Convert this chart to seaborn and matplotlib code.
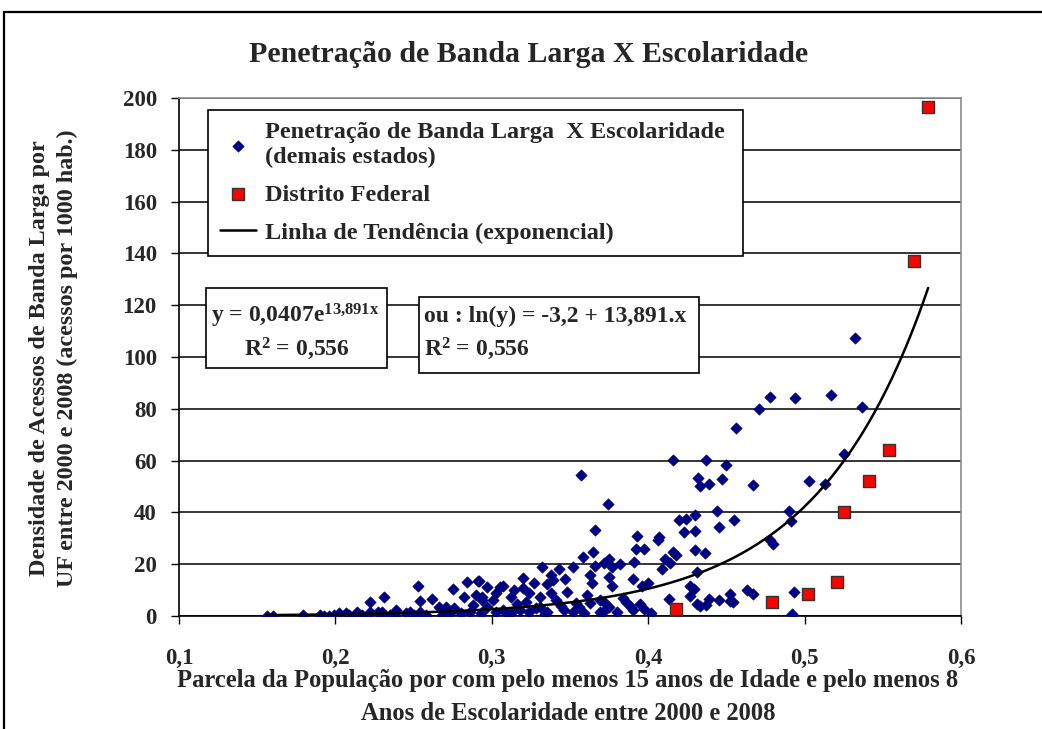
import numpy as np
import pandas as pd
import matplotlib
matplotlib.use("Agg")
import matplotlib.pyplot as plt
import seaborn as sns
from matplotlib.patches import Rectangle

# ---------------- data ----------------
estados_x = [0.156, 0.160, 0.179, 0.190, 0.193, 0.196, 0.199, 0.202, 0.207, 0.209,
             0.214, 0.217, 0.222, 0.222, 0.227, 0.230, 0.231, 0.235, 0.238, 0.239,
             0.245, 0.248, 0.253, 0.254, 0.254, 0.250,
             0.258, 0.262, 0.266, 0.268, 0.271, 0.273, 0.275, 0.276, 0.280, 0.282,
             0.284, 0.286, 0.288, 0.290, 0.291, 0.293, 0.294, 0.294, 0.297, 0.297, 0.292,
             0.301, 0.303, 0.303, 0.305, 0.307, 0.307, 0.310, 0.312, 0.313, 0.314,
             0.316, 0.318, 0.320, 0.320, 0.322, 0.324, 0.324, 0.327, 0.328, 0.331,
             0.331, 0.332, 0.334, 0.335, 0.335, 0.338, 0.338, 0.339, 0.341, 0.343,
             0.344, 0.346, 0.347, 0.348,
             0.352, 0.352, 0.354, 0.356, 0.357, 0.358, 0.359, 0.361, 0.363, 0.363,
             0.364, 0.365, 0.366, 0.366, 0.369, 0.369, 0.371, 0.372, 0.372, 0.374,
             0.375, 0.375, 0.375, 0.377, 0.377, 0.380, 0.382, 0.384, 0.386, 0.389,
             0.390, 0.390, 0.391, 0.392, 0.393, 0.395, 0.396, 0.397, 0.397, 0.400,
             0.402, 0.406, 0.407, 0.409, 0.411, 0.413, 0.414, 0.416, 0.416, 0.418,
             0.420, 0.423, 0.424, 0.427, 0.427, 0.429, 0.430, 0.430, 0.430, 0.431,
             0.431, 0.432, 0.433, 0.433, 0.436, 0.437, 0.437, 0.439, 0.439, 0.444,
             0.445, 0.445, 0.447,
             0.450, 0.452, 0.452, 0.454, 0.455, 0.456, 0.463, 0.467, 0.467, 0.471,
             0.478, 0.478, 0.480, 0.490, 0.491, 0.492, 0.493, 0.494, 0.503, 0.513,
             0.517, 0.525, 0.532, 0.537]
estados_y = [0.0, 0.0, 0.4, 0.4, 0.0, 0.0, 0.4, 1.0, 1.0, 0.4,
             1.7, 0.4, 1.7, 5.3, 1.7, 1.7, 7.3, 0.4, 0.4, 2.3,
             1.0, 1.7, 11.4, 5.6, 1.7, 0.4,
             0.4, 6.7, 3.6, 0.4, 3.6, 1.0, 10.3, 3.0, 1.0, 7.2,
             13.3, 1.7, 4.2, 8.1, 13.4, 1.0, 6.2, 7.5, 3.6, 11.1, 13.6,
             6.2, 8.8, 1.7, 11.3, 11.6, 2.3, 0.6, 7.5, 1.7, 10.0,
             4.5, 2.3, 10.7, 14.6, 5.5, 8.8, 1.7, 12.6, 3.0, 7.5,
             3.6, 18.9, 0.8, 12.4, 1.7, 8.8, 15.8, 13.9, 6.2, 18.0,
             4.0, 2.3, 14.3, 9.4,
             1.7, 18.8, 5.0, 3.6, 54.6, 22.9, 1.0, 8.0, 4.9, 15.8,
             12.6, 24.8, 33.3, 19.3, 6.2, 1.7, 1.7, 20.3, 5.5, 43.1,
             22.1, 15.2, 3.6, 11.7, 18.8, 1.7, 20.0, 6.8, 5.5, 3.6,
             2.3, 14.2, 20.8, 25.7, 31.0, 4.6, 11.6, 2.6, 26.0, 12.6,
             1.3, 29.3, 30.4, 18.3, 22.1, 6.7, 20.3, 60.1, 24.6, 23.7,
             37.1, 32.3, 37.5, 11.6, 7.8, 10.5, 39.0, 32.8, 25.5, 17.1,
             4.6, 53.2, 50.3, 3.9, 24.2, 60.1, 4.2, 51.1, 6.4, 40.7,
             6.2, 34.5, 52.8,
             58.3, 8.5, 5.7, 5.4, 37.1, 72.7, 10.0, 50.5, 8.5, 80.0,
             84.7, 29.3, 27.8, 40.7, 36.8, 0.8, 9.1, 84.3, 52.1, 51.0,
             85.4, 62.5, 107.2, 80.6]

df_x = [0.418, 0.479, 0.502, 0.521, 0.525, 0.541, 0.554, 0.570, 0.579]
df_y = [2.6, 5.5, 8.5, 13.2, 40.2, 52.1, 64.2, 137.0, 196.5]

trend_a = 0.0407
trend_b = 13.891

x_ticks = [0.1, 0.2, 0.3, 0.4, 0.5, 0.6]
x_tick_labels = ["0,1", "0,2", "0,3", "0,4", "0,5", "0,6"]
y_ticks = [0, 20, 40, 60, 80, 100, 120, 140, 160, 180, 200]
y_tick_labels = ["0", "20", "40", "60", "80", "100", "120", "140", "160", "180", "200"]

title = "Penetração de Banda Larga X Escolaridade"
label_estados = "Penetração de Banda Larga  X Escolaridade\n(demais estados)"
label_df = "Distrito Federal"
label_trend = "Linha de Tendência (exponencial)"
xlabel_lines = ["Parcela da População por com pelo menos 15 anos de Idade e pelo menos 8",
                "Anos de Escolaridade entre 2000 e 2008"]
ylabel_lines = ["Densidade de Acessos de Banda Larga por",
                "UF entre 2000 e 2008 (acessos por 1000 hab.)"]

# ---------------- style ----------------
sns.set_style("white")
plt.rcParams["font.family"] = ["Liberation Serif", "DejaVu Serif"]
plt.rcParams["font.weight"] = "bold"
plt.rcParams["mathtext.fontset"] = "custom"
plt.rcParams["mathtext.rm"] = "Liberation Serif:bold"
plt.rcParams["mathtext.it"] = "Liberation Serif:bold"
plt.rcParams["mathtext.bf"] = "Liberation Serif:bold"

W, H = 1042, 729
fig = plt.figure(figsize=(W / 100, H / 100), dpi=100)
fig.patch.set_facecolor("white")

def fx(px):
    return px / W

def fy(py):
    return 1 - py / H

ax = fig.add_axes([fx(179), fy(616), fx(961) - fx(179), fy(98) - fy(616)])

est = pd.DataFrame({"x": estados_x, "y": estados_y})
dfd = pd.DataFrame({"x": df_x, "y": df_y})

x_all = np.array(estados_x + df_x)
trend_x = np.linspace(x_all.min(), x_all.max(), 300)
trend = pd.DataFrame({"x": trend_x, "y": trend_a * np.exp(trend_b * trend_x)})

sns.scatterplot(data=est, x="x", y="y", marker="D", s=34, color="#000080",
                edgecolor="#000080", linewidth=0.4, ax=ax, label=label_estados, zorder=3)
sns.scatterplot(data=dfd, x="x", y="y", marker="s", s=72, color="#ff0000",
                edgecolor="#333333", linewidth=1.0, ax=ax, label=label_df, zorder=5)
sns.lineplot(data=trend, x="x", y="y", color="black", linewidth=1.8, ax=ax,
             label=label_trend, zorder=4)

ax.set_xlim(0.1, 0.6)
ax.set_ylim(0, 200)
ax.set_xticks(x_ticks)
ax.set_xticklabels(x_tick_labels, fontsize=16.5, fontweight="bold")
ax.set_yticks(y_ticks)
ax.set_yticklabels(y_tick_labels, fontsize=16.5, fontweight="bold")
ax.tick_params(axis="x", direction="out", length=6, width=1, pad=17, bottom=True, color="black")
ax.tick_params(axis="y", direction="out", length=6, width=1, pad=10, left=True, color="black")
ax.set_xlabel("")
ax.set_ylabel("")
ax.yaxis.grid(True, color="black", linewidth=1.1)
ax.xaxis.grid(False)
ax.set_axisbelow(True)
for side in ["left", "bottom"]:
    ax.spines[side].set_color("black")
    ax.spines[side].set_linewidth(1.2)
for side in ["top", "right"]:
    ax.spines[side].set_color("#8c8c8c")
    ax.spines[side].set_linewidth(1.2)

# legend
handles, labels = ax.get_legend_handles_labels()
leg = ax.legend(handles, labels, loc="upper left",
                bbox_to_anchor=(fx(207.7), fy(254), fx(743) - fx(207.7), fy(110) - fy(254)),
                bbox_transform=fig.transFigure, mode="expand",
                borderaxespad=0, frameon=True, fancybox=False, framealpha=1,
                edgecolor="black", handlelength=1.5, handletextpad=0.35,
                borderpad=0.5, labelspacing=0.66, markerscale=1.0,
                prop={"family": "Liberation Serif", "weight": "bold", "size": 17.5})
leg.get_frame().set_linewidth(1.2)
leg.set_zorder(10)

# equation boxes
box1 = Rectangle((fx(206), fy(368.3)), fx(386.7) - fx(206), fy(287.7) - fy(368.3),
                 transform=fig.transFigure, facecolor="white", edgecolor="black",
                 linewidth=1.2, zorder=5)
box2 = Rectangle((fx(419.3), fy(373.3)), fx(699) - fx(419.3), fy(296.7) - fy(373.3),
                 transform=fig.transFigure, facecolor="white", edgecolor="black",
                 linewidth=1.2, zorder=5)
fig.add_artist(box1)
fig.add_artist(box2)
fig.text(fx(211), fy(316), r"y = 0,0407e$^{13{,}891x}$", fontsize=17, fontweight="bold",
         ha="left", va="center", zorder=6)
fig.text(fx(297), fy(349), r"R$^{2}$ = 0,556", fontsize=17, fontweight="bold",
         ha="center", va="center", zorder=6)
fig.text(fx(424), fy(316), "ou : ln(y) = -3,2 + 13,891.x", fontsize=17, fontweight="bold",
         ha="left", va="center", zorder=6)
fig.text(fx(424), fy(349), r"R$^{2}$ = 0,556", fontsize=17, fontweight="bold",
         ha="left", va="center", zorder=6)

# titles
fig.text(fx(529), fy(55), title, fontsize=21.5, fontweight="bold", ha="center", va="center")
fig.text(fx(568), fy(680), xlabel_lines[0], fontsize=17.7, fontweight="bold",
         ha="center", va="center")
fig.text(fx(568), fy(713), xlabel_lines[1], fontsize=17.7, fontweight="bold",
         ha="center", va="center")
fig.text(fx(40), fy(358), ylabel_lines[0], fontsize=17.4, fontweight="bold",
         ha="center", va="center", rotation=90)
fig.text(fx(67), fy(358), ylabel_lines[1], fontsize=17.4, fontweight="bold",
         ha="center", va="center", rotation=90)

# outer frame
frame = Rectangle((fx(4), -0.1), 1.5, fy(12) + 0.1, transform=fig.transFigure,
                  fill=False, edgecolor="black", linewidth=1.6, zorder=20)
fig.add_artist(frame)

fig.savefig("out.png", dpi=100, facecolor="white")
